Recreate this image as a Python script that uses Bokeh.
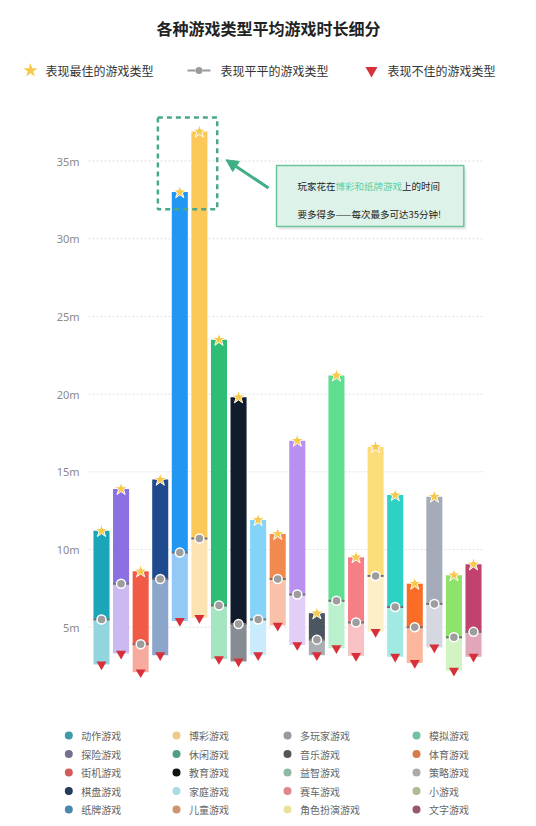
from bokeh.plotting import figure
from bokeh.models import Range1d, Arrow, NormalHead
from bokeh.embed import file_html
from bokeh.resources import INLINE
from bokeh.core.properties import value

# ---------------- data ----------------
categories = ["动作游戏", "探险游戏", "街机游戏", "棋盘游戏", "纸牌游戏",
              "博彩游戏", "休闲游戏", "教育游戏", "家庭游戏", "儿童游戏",
              "多玩家游戏", "音乐游戏", "益智游戏", "赛车游戏", "角色扮演游戏",
              "模拟游戏", "体育游戏", "策略游戏", "小游戏", "文字游戏"]
best = [11.2, 13.9, 8.6, 14.5, 33.0, 36.9, 23.5, 19.8, 11.9, 11.0,
        17.0, 5.9, 21.2, 9.5, 16.6, 13.5, 7.8, 13.4, 8.35, 9.05]
average = [5.5, 7.8, 3.9, 8.1, 9.8, 10.7, 6.4, 5.2, 5.5, 8.1,
           7.1, 4.2, 6.7, 5.3, 8.3, 6.3, 5.0, 6.5, 4.35, 4.7]
worst = [2.6, 3.3, 2.1, 3.2, 5.4, 5.6, 2.95, 2.8, 3.2, 5.1,
         3.85, 3.2, 3.65, 3.15, 4.7, 3.1, 2.7, 3.7, 2.2, 3.1]
tick_values = [5, 10, 15, 20, 25, 30, 35]
tick_labels = ["5m", "10m", "15m", "20m", "25m", "30m", "35m"]
title_text = "各种游戏类型平均游戏时长细分"
marker_legend = ["表现最佳的游戏类型", "表现平平的游戏类型", "表现不佳的游戏类型"]
note_line1 = ["玩家花在", "博彩和纸牌游戏", "上的时间"]
note_line2 = "要多得多——每次最多可达35分钟!"

# ---------------- styles ----------------
top_colors = ["#1ba5b8", "#8b70e2", "#f25a48", "#1f4b8e", "#2196f3",
              "#fcc85a", "#2ebd74", "#101b2b", "#84d3f8", "#f2894f",
              "#b98ff0", "#4b5661", "#60de8f", "#f67f86", "#fddc7a",
              "#2fd1c4", "#fb6c27", "#a5acb9", "#8ee46b", "#c2426f"]
light_colors = ["#93d5de", "#cbbaf2", "#f7ab9f", "#8ca5ca", "#92c9f6",
                "#fde3b2", "#a5e5c2", "#858c94", "#c9ebfb", "#f9c1a9",
                "#e1cff8", "#a9aeb3", "#b9f0cd", "#f8c1c3", "#fdf0c9",
                "#a0eae3", "#fbb69b", "#d5d8e0", "#d2f3c2", "#e1a6b9"]
legend_dot_colors = ["#3d9aa6", "#75708f", "#d25a58", "#263a5c", "#4a86ad",
                     "#edc98a", "#4fa082", "#111111", "#a9dbe3", "#cf9570",
                     "#9a9a9a", "#555555", "#8fb9a4", "#e0878e", "#e9e39a",
                     "#6dc3a2", "#d67c4c", "#ababab", "#aebb94", "#98566f"]
CJK = value("Noto Sans CJK SC")
STAR = "#f7c948"
RED = "#d8303a"
GREEN = "#3fae82"

# ---------------- layout (pixels) ----------------
W, H = 536, 826
slot_px = 19.58      # width of one category slot
left_px = 91.2       # screen x of first slot's left edge
unit_px = 15.54      # pixels per minute
zero_px = 704.4      # screen y of 0 minutes


def X(sx):
    return (sx - left_px) / slot_px


def Y(sy):
    return (zero_px - sy) / unit_px


n = len(categories)
xs = [i + 0.5 for i in range(n)]

p = figure(width=W, height=H,
           x_range=Range1d(X(0), X(W)), y_range=Range1d(Y(H), Y(0)),
           output_backend="svg", toolbar_location=None,
           x_axis_location=None, y_axis_location=None,
           min_border=0, outline_line_color=None)
p.grid.visible = False

# title
p.text(x=[X(268)], y=[Y(27)], text=[title_text], text_font=CJK,
       text_font_size="16px", text_font_style="bold", text_color="#222222",
       text_align="center", text_baseline="middle")

# marker legend
ly = Y(70)
p.scatter(x=[X(30)], y=[ly], marker="star", size=15, fill_color=STAR, line_color=None)
p.segment(x0=[X(187), X(202)], y0=[ly, ly], x1=[X(195), X(210)], y1=[ly, ly],
          line_color="#9a9a9a", line_width=2)
p.scatter(x=[X(198.5)], y=[ly], marker="circle", size=7, fill_color="#9a9a9a", line_color=None)
p.scatter(x=[X(371)], y=[ly], marker="inverted_triangle", size=12, fill_color=RED, line_color=None)
p.text(x=[X(45), X(220), X(387)], y=[ly] * 3, text=marker_legend, text_font=CJK,
       text_font_size="12px", text_color="#333333", text_baseline="middle")

# gridlines + tick labels
p.segment(x0=[X(88)] * len(tick_values), y0=tick_values,
          x1=[X(483)] * len(tick_values), y1=tick_values,
          line_color="#e0e0e0", line_width=1, line_dash="2 2")
p.text(x=[X(79)] * len(tick_values), y=tick_values, text=tick_labels,
       text_font=value("Noto Sans"), text_font_size="11px", text_color="#8a8a8a",
       text_align="right", text_baseline="middle")

# bars
bw = 0.82
p.vbar(x=xs, width=bw, bottom=worst, top=average, fill_color=light_colors, line_color=None)
p.vbar(x=xs, width=bw, bottom=average, top=best, fill_color=top_colors, line_color=None)
p.rect(x=xs, y=average, width=bw, height=2, height_units="screen",
       fill_color="#707070", line_color=None)
p.scatter(x=xs, y=average, marker="circle", size=9, fill_color="#9d9d9d",
          line_color="white", line_width=1.5)
p.scatter(x=xs, y=best, marker="star", size=14, fill_color=STAR,
          line_color="white", line_width=1)
p.scatter(x=xs, y=worst, marker="inverted_triangle", size=10, fill_color=RED,
          line_color=None)

# highlight box around 纸牌 / 博彩
i_card = categories.index("纸牌游戏")
i_bet = categories.index("博彩游戏")
p.quad(left=[i_card - 0.62], right=[i_bet + 1.41],
       top=[best[i_bet] + 0.9], bottom=[best[i_card] - 1.1],
       fill_color=None, line_color="#4aa889", line_width=2.5, line_dash="5 4")

# note box
p.quad(left=[X(278)], right=[X(466)], top=[Y(168)], bottom=[Y(229)],
       fill_color="#e4e4e4", line_color=None, fill_alpha=0.8)
p.quad(left=[X(276)], right=[X(463.3)], top=[Y(165)], bottom=[Y(226)],
       fill_color="#ddf3ea", line_color="#6cc49e", line_width=1.5)
p.text(x=[X(297)] * 3, y=[Y(185)] * 3, text=note_line1, x_offset=[0, 38, 104.5],
       text_color=["#222222", "#5fcf9f", "#222222"], text_font=CJK,
       text_font_size="9.5px", text_baseline="middle")
p.text(x=[X(297)], y=[Y(213)], text=[note_line2], text_color="#222222",
       text_font=CJK, text_font_size="9.5px", text_baseline="middle")
p.add_layout(Arrow(end=NormalHead(size=12, fill_color=GREEN, line_color=GREEN),
                   x_start=X(268), y_start=Y(187.5), x_end=X(225.5), y_end=Y(159.3),
                   line_color=GREEN, line_width=3))

# category legend (4 columns x 5 rows)
col_px = [68.3, 176, 287, 416]
lx = [X(col_px[i // 5]) for i in range(n)]
lyy = [Y(735 + (i % 5) * 18.5) for i in range(n)]
p.scatter(x=lx, y=lyy, marker="circle", size=8, fill_color=legend_dot_colors, line_color=None)
p.text(x=lx, y=lyy, x_offset=12.4, text=categories, text_font=CJK,
       text_font_size="10px", text_color="#666666", text_baseline="middle")

open("out.html", "w").write(file_html(p, INLINE))
